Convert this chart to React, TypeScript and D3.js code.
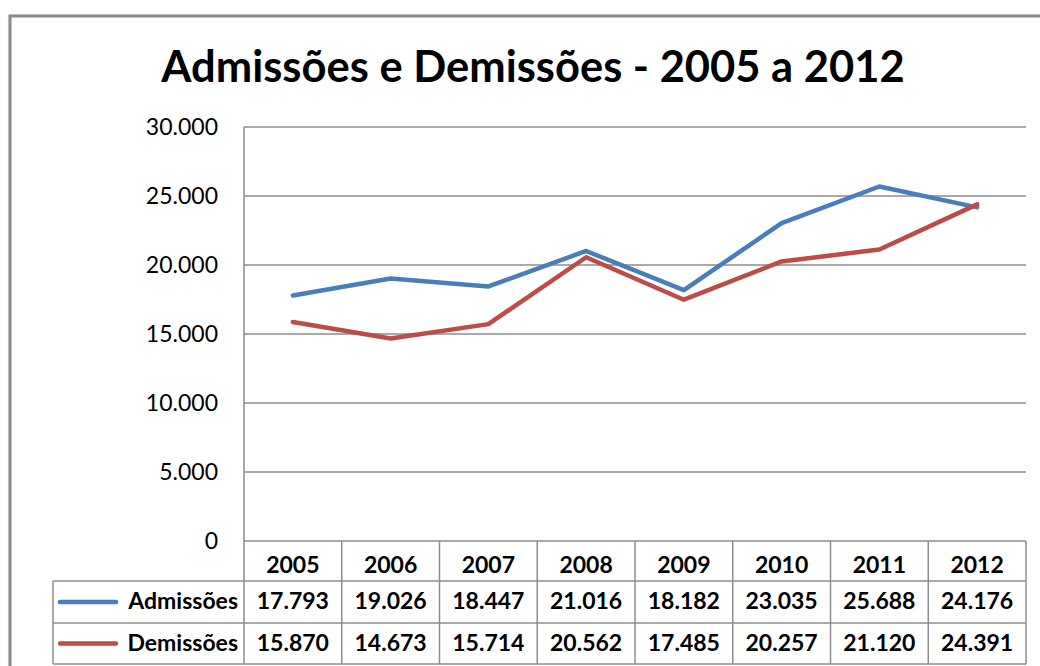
import React from "react";
import * as d3 from "d3";

const years = ["2005", "2006", "2007", "2008", "2009", "2010", "2011", "2012"];
const admissoes = [17793, 19026, 18447, 21016, 18182, 23035, 25688, 24176];
const demissoes = [15870, 14673, 15714, 20562, 17485, 20257, 21120, 24391];
const yTicks = [0, 5000, 10000, 15000, 20000, 25000, 30000];
const seriesNames = ["Admissões", "Demissões"];
const seriesColors = ["#4A7EBB", "#BE4B48"];
const title = "Admissões e Demissões - 2005 a 2012";

const fmt = (v: number) => d3.format(",")(v).replace(/,/g, ".");

export default function App() {
  const W = 1040, H = 666;
  const left = 244, right = 1026, top = 127, bottom = 541;
  const x = d3.scaleBand().domain(years).range([left, right]).paddingInner(0).paddingOuter(0);
  const y = d3.scaleLinear().domain([0, 30000]).range([bottom, top]);
  const line = d3.line<number>().x((_, i) => (x(years[i]) as number) + x.bandwidth() / 2).y((d) => y(d));
  const series = [admissoes, demissoes];
  const rowTops = [541, 581, 623, 664];
  const legendLeft = 53;
  const font = "Lato, 'Open Sans', sans-serif";
  const grid = "#8c8c8c";

  return (
    <svg width={W} height={H} style={{ position: "absolute", left: 0, top: 0, background: "#fff" }} fontFamily={font}>
      <defs>
        <filter id="sh" x="-5%" y="-5%" width="110%" height="110%">
          <feDropShadow dx="1" dy="1" stdDeviation="1.2" floodColor="#000" floodOpacity="0.35" />
        </filter>
      </defs>
      <rect x={10} y={16} width={1100} height={700} fill="#fff" stroke="#8a8a8a" strokeWidth={3} filter="url(#sh)" />
      <text x={533} y={82} textAnchor="middle" fontSize={43.5} fontWeight="bold" fill="#000">{title}</text>
      {yTicks.map((t) => (
        <g key={t}>
          {t > 0 && <line x1={left} x2={right} y1={y(t)} y2={y(t)} stroke={grid} strokeWidth={1.5} />}
          <text x={218} y={y(t) + 8} textAnchor="end" fontSize={23} fill="#000">{fmt(t)}</text>
        </g>
      ))}
      <line x1={left} x2={left} y1={top} y2={bottom} stroke={grid} strokeWidth={1.5} />
      <g stroke={grid} strokeWidth={1.5} fill="none">
        <line x1={left} x2={right} y1={rowTops[0]} y2={rowTops[0]} />
        <line x1={legendLeft} x2={right} y1={rowTops[1]} y2={rowTops[1]} />
        <line x1={legendLeft} x2={right} y1={rowTops[2]} y2={rowTops[2]} />
        <line x1={legendLeft} x2={right} y1={rowTops[3]} y2={rowTops[3]} />
        <line x1={legendLeft} x2={legendLeft} y1={rowTops[1]} y2={rowTops[3]} />
        {years.map((yr) => (
          <line key={yr} x1={x(yr) as number} x2={x(yr) as number} y1={rowTops[0]} y2={rowTops[3]} />
        ))}
        <line x1={right} x2={right} y1={rowTops[0]} y2={rowTops[3]} />
      </g>
      {years.map((yr) => (
        <text key={yr} x={(x(yr) as number) + x.bandwidth() / 2} y={rowTops[0] + 32} textAnchor="middle" fontSize={23} fontWeight="bold">{yr}</text>
      ))}
      {series.map((s, si) => (
        <g key={si}>
          <line x1={60} x2={116} y1={(rowTops[si + 1] + rowTops[si + 2]) / 2} y2={(rowTops[si + 1] + rowTops[si + 2]) / 2} stroke={seriesColors[si]} strokeWidth={4.5} strokeLinecap="round" />
          <text x={238} y={rowTops[si + 1] + 28} textAnchor="end" fontSize={23} fontWeight="bold">{seriesNames[si]}</text>
          {s.map((v, i) => (
            <text key={i} x={(x(years[i]) as number) + x.bandwidth() / 2} y={rowTops[si + 1] + 28} textAnchor="middle" fontSize={23} fontWeight="bold">{fmt(v)}</text>
          ))}
        </g>
      ))}
      {series.map((s, si) => (
        <path key={si} d={line(s) as string} fill="none" stroke={seriesColors[si]} strokeWidth={4.5} strokeLinejoin="round" strokeLinecap="round" />
      ))}
    </svg>
  );
}
